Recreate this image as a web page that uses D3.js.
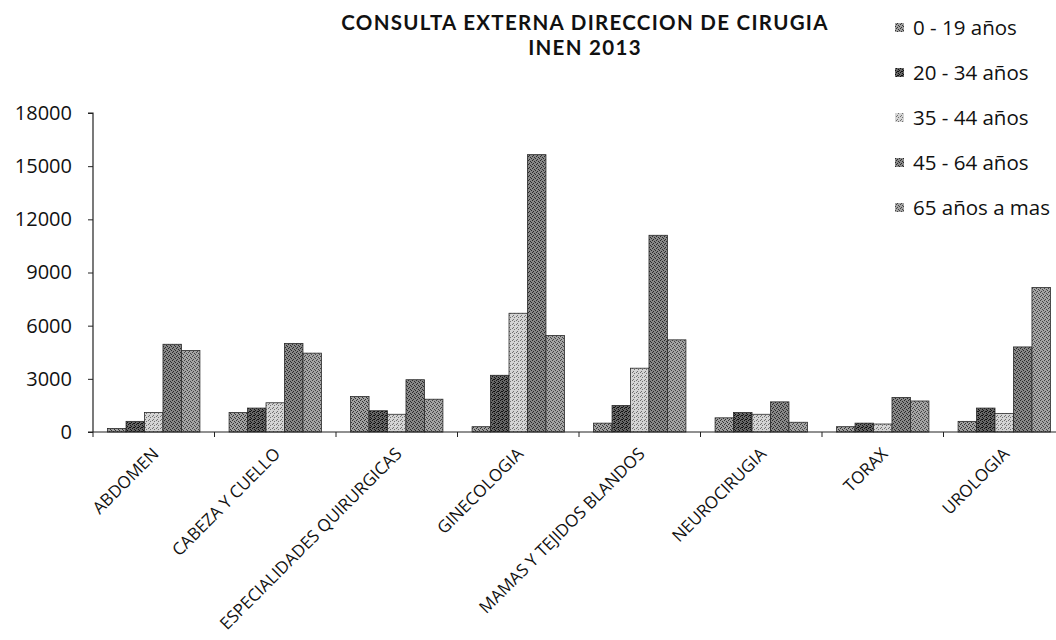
<!DOCTYPE html>
<html><head><meta charset="utf-8">
<script src="https://cdn.jsdelivr.net/npm/d3@7"></script>
<style>
html,body{margin:0;padding:0;background:#fff;}
svg{display:block;font-family:"Open Sans",sans-serif;}
</style></head>
<body><svg id="c" width="1056" height="640"></svg>
<script>
const categories = ["ABDOMEN","CABEZA Y CUELLO","ESPECIALIDADES QUIRURGICAS","GINECOLOGIA","MAMAS Y TEJIDOS BLANDOS","NEUROCIRUGIA","TORAX","UROLOGIA"];
const seriesNames = ["0 - 19 años","20 - 34 años","35 - 44 años","45 - 64 años","65 años a mas"];
const s0_19  = [200, 1100, 2000, 300, 500, 800, 300, 600];
const s20_34 = [600, 1350, 1200, 3200, 1500, 1100, 500, 1350];
const s35_44 = [1100, 1650, 1000, 6700, 3600, 1000, 450, 1050];
const s45_64 = [4950, 5000, 2950, 15650, 11100, 1700, 1950, 4800];
const s65    = [4600, 4450, 1850, 5450, 5200, 550, 1750, 8150];
const yTicks = [0, 3000, 6000, 9000, 12000, 15000, 18000];
const titleLines = ["CONSULTA EXTERNA DIRECCION DE CIRUGIA","INEN 2013"];

const seriesValues = [s0_19, s20_34, s35_44, s45_64, s65];

const svg = d3.select("#c");
const mLeft = 93, mRight = 1065, mTop = 113, mBottom = 432;

// stipple patterns
const pats = [
  {base:"#a0a0a0", dot:"#333"},
  {base:"#666666", dot:"#111"},
  {base:"#d4d4d4", dot:"#707070"},
  {base:"#888888", dot:"#2a2a2a"},
  {base:"#a4a4a4", dot:"#444"}
];
const dotLayout = [[0,0],[2,1],[1,3],[3,2],[2,3]];
const defs = svg.append("defs");
pats.forEach((p,i)=>{
  const pt = defs.append("pattern").attr("id","p"+i).attr("patternUnits","userSpaceOnUse")
    .attr("width",4).attr("height",4);
  pt.append("rect").attr("width",4).attr("height",4).attr("fill",p.base);
  dotLayout.slice(0, i===1?5:(i===2?3:4)).forEach(d=>{
    pt.append("rect").attr("x",d[0]).attr("y",d[1]).attr("width",1).attr("height",1).attr("fill",p.dot);
  });
});

const x0 = d3.scaleBand().domain(categories).range([mLeft, mRight]).paddingInner(0.24).paddingOuter(0.12);
const x1 = d3.scaleBand().domain(d3.range(seriesNames.length)).range([0, x0.bandwidth()]);
const y = d3.scaleLinear().domain([0, 18000]).range([mBottom, mTop]);

// bars
const g = svg.append("g");
categories.forEach((c,ci)=>{
  seriesValues.forEach((vals,si)=>{
    g.append("rect")
      .attr("x", x0(c) + x1(si))
      .attr("y", y(vals[ci]))
      .attr("width", x1.bandwidth())
      .attr("height", y(0) - y(vals[ci]))
      .attr("fill", "url(#p"+si+")")
      .attr("stroke", "#2a2a2a").attr("stroke-width", 0.8);
  });
});

// y axis
const yAxis = d3.axisLeft(y).tickValues(yTicks).tickSize(5).tickPadding(16).tickFormat(d3.format("d"));
const ya = svg.append("g").attr("transform",`translate(${mLeft},0)`).call(yAxis);
ya.select(".domain").attr("stroke","#222").attr("stroke-width",1.2).attr("d",`M-5,${mTop}H0V${mBottom}`);
ya.selectAll(".tick line").attr("stroke","#222");
ya.selectAll(".tick text").attr("font-size",20).attr("fill","#111").attr("font-family","'Open Sans',sans-serif");

// x axis line
svg.append("line").attr("x1",mLeft-5).attr("x2",1056).attr("y1",mBottom).attr("y2",mBottom)
  .attr("stroke","#222").attr("stroke-width",1.2);
// boundary ticks
d3.range(categories.length+1).forEach(i=>{
  const bx = mLeft + i*x0.step();
  svg.append("line").attr("x1",bx).attr("x2",bx).attr("y1",mBottom).attr("y2",mBottom+5)
    .attr("stroke","#222").attr("stroke-width",1);
});
// x labels
categories.forEach(c=>{
  const cx = x0(c) + x0.bandwidth()/2;
  svg.append("text").attr("transform",`translate(${cx+6},455) rotate(-45)`)
    .attr("text-anchor","end").attr("font-size",17).attr("fill","#111").text(c);
});

// title
titleLines.forEach((t,i)=>{
  svg.append("text").attr("x",585).attr("y",29.5+i*25).attr("text-anchor","middle")
    .attr("font-family","Lato, 'Open Sans', sans-serif")
    .attr("letter-spacing",1.3)
    .attr("font-weight","bold").attr("font-size",20.5).attr("fill","#111").text(t);
});

// legend
seriesNames.forEach((n,i)=>{
  const cy = 28 + i*45;
  svg.append("rect").attr("x",895).attr("y",cy-5).attr("width",9).attr("height",9)
    .attr("fill","url(#p"+i+")");
  svg.append("text").attr("x",913).attr("y",cy).attr("dy","0.35em").attr("font-size",20.5)
    .attr("fill","#111").text(n);
});
</script></body></html>
